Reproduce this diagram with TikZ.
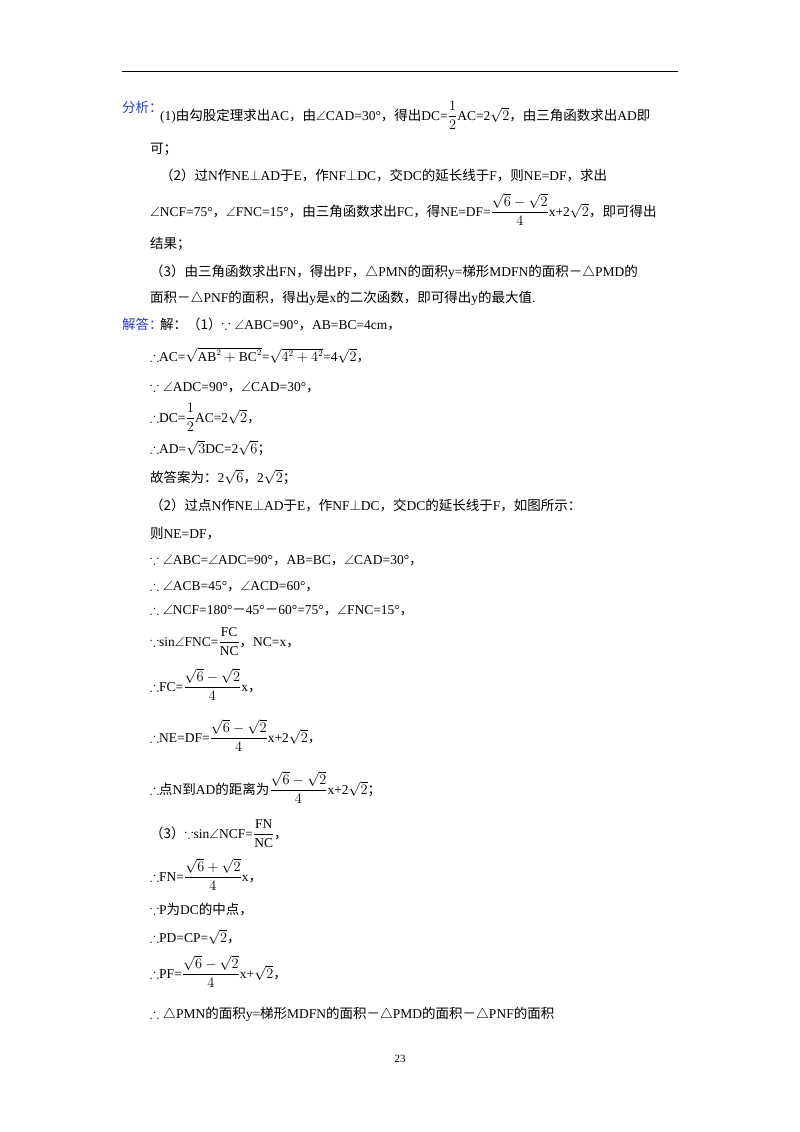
\documentclass[tikz,border=0pt]{standalone}
\usepackage{amsmath,amssymb}
\usepackage{fontspec}
\setmainfont{Liberation Serif}
\newfontfamily\cjk{Noto Sans CJK SC}
\newcommand\Z[1]{{\cjk #1}}
\definecolor{lbl}{RGB}{40,60,200}
\begin{document}
\begin{tikzpicture}[x=1pt,y=-1pt,
  t/.style={anchor=base west,inner sep=0pt,font=\fontsize{13.5}{16}\selectfont},
  lb/.style={t,text=lbl}]
\useasboundingbox (0,0) rectangle (800,1132);
\fill[white] (0,0) rectangle (800,1132);
\coordinate (r1) at (122,72); \coordinate (r2) at (678,72);
\draw[line width=1pt] (r1) -- (r2);
\node[lb] (fx) at (122,112) {\Z{分析：}};
\node[t] (a1) at (160,120) {(1)\Z{由勾股定理求出}AC\Z{，由}$\angle$CAD=30°\Z{，得出}DC=$\dfrac{1}{2}$AC=2$\sqrt2$\Z{，由三角函数求出}AD\Z{即}};
\node[t] (a2) at (150,153) {\Z{可；}};
\node[t] (a3) at (160,180) {\Z{（2）过}N\Z{作}NE$\perp$AD\Z{于}E\Z{，作}NF$\perp$DC\Z{，交}DC\Z{的延长线于}F\Z{，则}NE=DF\Z{，求出}};
\node[t] (a4) at (150,216) {$\angle$NCF=75°\Z{，}$\angle$FNC=15°\Z{，由三角函数求出}FC\Z{，得}NE=DF=$\dfrac{\sqrt6-\sqrt2}{4}$x+2$\sqrt2$\Z{，即可得出}};
\node[t] (a5) at (150,248) {\Z{结果；}};
\node[t] (a6) at (150,276) {\Z{（3）由三角函数求出}FN\Z{，得出}PF\Z{，}$\triangle$PMN\Z{的面积}y=\Z{梯形}MDFN\Z{的面积－}$\triangle$PMD\Z{的}};
\node[t] (a7) at (150,302) {\Z{面积－}$\triangle$PNF\Z{的面积，得出}y\Z{是}x\Z{的二次函数，即可得出}y\Z{的最大值}.};
\node[lb] (jd) at (122,329) {\Z{解答：}};
\node[t] (b1) at (160,329) {\Z{解：（1）}$\because\angle$ABC=90°\Z{，}AB=BC=4cm\Z{，}};
\node[t] (b2) at (150,361) {$\therefore$AC=$\sqrt{\mathrm{AB}^2+\mathrm{BC}^2}$=$\sqrt{4^2+4^2}$=4$\sqrt2$\Z{，}};
\node[t] (b3) at (150,391) {$\because\angle$ADC=90°\Z{，}$\angle$CAD=30°\Z{，}};
\node[t] (b4) at (150,422) {$\therefore$DC=$\dfrac12$AC=2$\sqrt2$\Z{，}};
\node[t] (b5) at (150,453) {$\therefore$AD=$\sqrt3$DC=2$\sqrt6$\Z{；}};
\node[t] (b6) at (150,482) {\Z{故答案为：}2$\sqrt6$\Z{，}2$\sqrt2$\Z{；}};
\node[t] (b7) at (150,510) {\Z{（2）过点}N\Z{作}NE$\perp$AD\Z{于}E\Z{，作}NF$\perp$DC\Z{，交}DC\Z{的延长线于}F\Z{，如图所示：}};
\node[t] (b8) at (150,538) {\Z{则}NE=DF\Z{，}};
\node[t] (b9) at (150,564) {$\because\angle$ABC=$\angle$ADC=90°\Z{，}AB=BC\Z{，}$\angle$CAD=30°\Z{，}};
\node[t] (b10) at (150,590) {$\therefore\angle$ACB=45°\Z{，}$\angle$ACD=60°\Z{，}};
\node[t] (b11) at (150,614) {$\therefore\angle$NCF=180°\Z{－}45°\Z{－}60°=75°\Z{，}$\angle$FNC=15°\Z{，}};
\node[t] (b12) at (150,646) {$\because$sin$\angle$FNC=$\dfrac{\mathrm{FC}}{\mathrm{NC}}$\Z{，}NC=x\Z{，}};
\node[t] (b13) at (150,691) {$\therefore$FC=$\dfrac{\sqrt6-\sqrt2}{4}$x\Z{，}};
\node[t] (b14) at (150,742) {$\therefore$NE=DF=$\dfrac{\sqrt6-\sqrt2}{4}$x+2$\sqrt2$\Z{，}};
\node[t] (b15) at (150,794) {$\therefore$\Z{点}N\Z{到}AD\Z{的距离为}$\dfrac{\sqrt6-\sqrt2}{4}$x+2$\sqrt2$\Z{；}};
\node[t] (b16) at (150,838) {\Z{（3）}$\because$sin$\angle$NCF=$\dfrac{\mathrm{FN}}{\mathrm{NC}}$\Z{，}};
\node[t] (b17) at (150,881) {$\therefore$FN=$\dfrac{\sqrt6+\sqrt2}{4}$x\Z{，}};
\node[t] (b18) at (150,914) {$\because$P\Z{为}DC\Z{的中点，}};
\node[t] (b19) at (150,942) {$\therefore$PD=CP=$\sqrt2$\Z{，}};
\node[t] (b20) at (150,978) {$\therefore$PF=$\dfrac{\sqrt6-\sqrt2}{4}$x+$\sqrt2$\Z{，}};
\node[t] (b21) at (150,1018) {$\therefore\triangle$PMN\Z{的面积}y=\Z{梯形}MDFN\Z{的面积－}$\triangle$PMD\Z{的面积－}$\triangle$PNF\Z{的面积}};
\node[anchor=base,inner sep=0pt,font=\fontsize{11}{13}\selectfont] (pg) at (400,1062) {23};
\end{tikzpicture}
\end{document}
